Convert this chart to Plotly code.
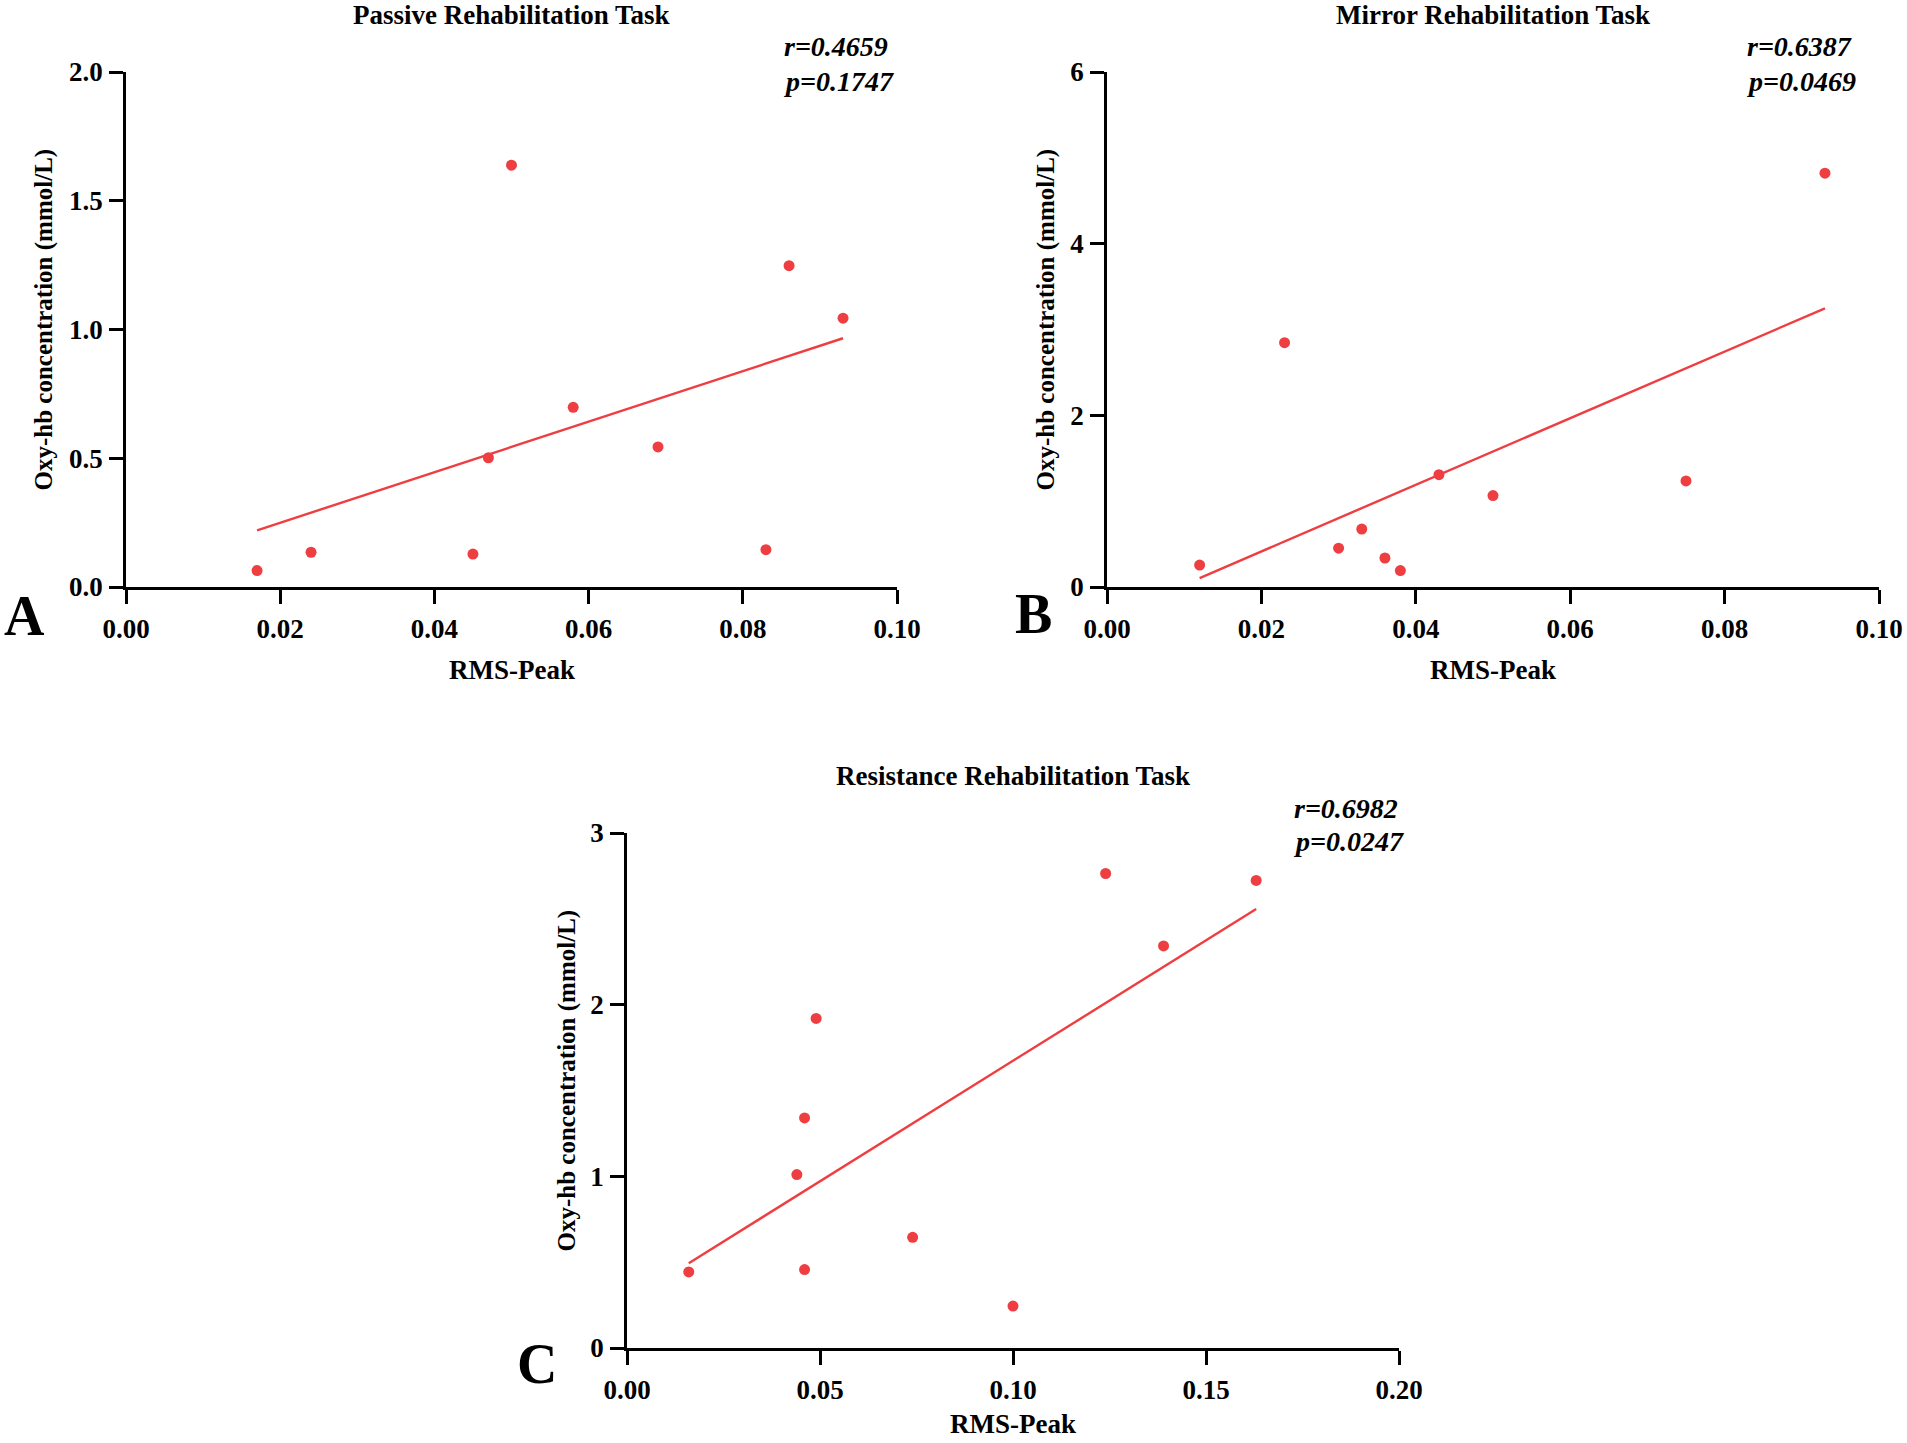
import plotly.graph_objects as go

# --- data ---
# A: passive rehabilitation task
passive_x = [0.017, 0.024, 0.045, 0.047, 0.050, 0.058, 0.069, 0.083, 0.086, 0.093]
passive_y = [0.064, 0.135, 0.128, 0.502, 1.638, 0.698, 0.544, 0.145, 1.248, 1.044]
passive_fit_x = [0.017, 0.093]
passive_fit_y = [0.220, 0.966]

# B: mirror rehabilitation task
mirror_x = [0.012, 0.023, 0.030, 0.033, 0.036, 0.038, 0.043, 0.050, 0.075, 0.093]
mirror_y = [0.255, 2.847, 0.452, 0.675, 0.338, 0.192, 1.309, 1.065, 1.236, 4.821]
mirror_fit_x = [0.012, 0.093]
mirror_fit_y = [0.104, 3.247]

# C: resistance rehabilitation task
resist_x = [0.016, 0.044, 0.046, 0.046, 0.049, 0.074, 0.100, 0.124, 0.139, 0.163]
resist_y = [0.443, 1.010, 1.340, 0.457, 1.920, 0.645, 0.244, 2.764, 2.342, 2.724]
resist_fit_x = [0.016, 0.163]
resist_fit_y = [0.494, 2.557]

titles = ['Passive Rehabilitation Task', 'Mirror Rehabilitation Task', 'Resistance Rehabilitation Task']
stats_r = ['r=0.4659', 'r=0.6387', 'r=0.6982']
stats_p = ['p=0.1747', 'p=0.0469', 'p=0.0247']
letters = ['A', 'B', 'C']

RED = '#EF3E42'
W, H = 1907, 1443
FONT = 'Liberation Serif'

panels = [
    dict(xs=passive_x, ys=passive_y, fx=passive_fit_x, fy=passive_fit_y,
         xdom=[126, 897], ytop=72, ybot=587, xrange=[0, 0.10], xd=0.02, xfmt='.2f',
         yrange=[0, 2.0], yd=0.5, yfmt='.1f', ylab_x=43, letter=(24, 616), stat_x=782),
    dict(xs=mirror_x, ys=mirror_y, fx=mirror_fit_x, fy=mirror_fit_y,
         xdom=[1107, 1879], ytop=72, ybot=587, xrange=[0, 0.10], xd=0.02, xfmt='.2f',
         yrange=[0, 6], yd=2, yfmt='d', ylab_x=1045, letter=(1033, 614), stat_x=1745),
    dict(xs=resist_x, ys=resist_y, fx=resist_fit_x, fy=resist_fit_y,
         xdom=[627, 1399], ytop=833, ybot=1348, xrange=[0, 0.20], xd=0.05, xfmt='.2f',
         yrange=[0, 3], yd=1, yfmt='d', ylab_x=566, letter=(537, 1364), stat_x=1292),
]

fig = go.Figure()
annotations = []


def px_x(v):
    return v / W


def px_y(v):
    return 1 - v / H


for i, p in enumerate(panels):
    n = '' if i == 0 else str(i + 1)
    xa, ya = 'x' + n, 'y' + n

    fig.add_trace(go.Scatter(x=p['fx'], y=p['fy'], mode='lines',
                             line=dict(color=RED, width=2.4),
                             xaxis=xa, yaxis=ya, showlegend=False))
    fig.add_trace(go.Scatter(x=p['xs'], y=p['ys'], mode='markers',
                             marker=dict(color=RED, size=11),
                             xaxis=xa, yaxis=ya, showlegend=False))

    axis_common = dict(showline=True, linecolor='black', linewidth=2.5,
                       ticks='outside', ticklen=14, tickwidth=2.5, tickcolor='black',
                       showgrid=False, zeroline=False, fixedrange=True, automargin=False,
                       tickfont=dict(family=FONT, size=27, color='black', weight='bold'))
    fig.update_layout(**{
        'xaxis' + n: dict(axis_common, domain=[px_x(p['xdom'][0]), px_x(p['xdom'][1])],
                          range=p['xrange'], dtick=p['xd'], tick0=0, tickformat=p['xfmt'],
                          anchor=ya, ticklabelstandoff=2),
        'yaxis' + n: dict(axis_common, domain=[px_y(p['ybot']), px_y(p['ytop'])],
                          range=p['yrange'], dtick=p['yd'], tick0=0, tickformat=p['yfmt'],
                          anchor=xa, ticklabelstandoff=1),
    })

    cx = (p['xdom'][0] + p['xdom'][1]) / 2
    cy = (p['ytop'] + p['ybot']) / 2
    bold = dict(family=FONT, color='black', weight='bold')
    # panel title
    annotations.append(dict(x=px_x(cx), y=px_y(p['ytop'] - 57), text=titles[i],
                            font=dict(bold, size=27), showarrow=False,
                            xref='paper', yref='paper', xanchor='center', yanchor='middle'))
    # x axis title (kept inside the page for the bottom panel)
    annotations.append(dict(x=px_x(cx), y=px_y(min(p['ybot'] + 83, 1424)), text='RMS-Peak',
                            font=dict(bold, size=27), showarrow=False,
                            xref='paper', yref='paper', xanchor='center', yanchor='middle'))
    # y axis title
    annotations.append(dict(x=px_x(p['ylab_x']), y=px_y(cy - 10), text='Oxy-hb concentration (mmol/L)',
                            font=dict(bold, size=25), textangle=-90, showarrow=False,
                            xref='paper', yref='paper', xanchor='center', yanchor='middle'))
    # panel letter
    annotations.append(dict(x=px_x(p['letter'][0]), y=px_y(p['letter'][1]), text=letters[i],
                            font=dict(bold, size=56), showarrow=False,
                            xref='paper', yref='paper', xanchor='center', yanchor='middle'))
    # r and p values
    italic = dict(bold, size=28, style='italic')
    annotations.append(dict(x=px_x(p['stat_x']), y=px_y(p['ytop'] - 25), text=stats_r[i],
                            font=italic, showarrow=False,
                            xref='paper', yref='paper', xanchor='left', yanchor='middle'))
    annotations.append(dict(x=px_x(p['stat_x']), y=px_y(p['ytop'] + 9), text=stats_p[i],
                            font=italic, showarrow=False,
                            xref='paper', yref='paper', xanchor='left', yanchor='middle'))

fig.update_layout(template='none', width=W, height=H, margin=dict(l=0, r=0, t=0, b=0, pad=0),
                  paper_bgcolor='white', plot_bgcolor='white',
                  annotations=annotations, showlegend=False)

# drop the default body margin so the figure sits exactly in the window
fig.write_html("out.html", config={'displayModeBar': False},
               post_script="document.body.style.margin='0';document.body.style.overflow='hidden';")
